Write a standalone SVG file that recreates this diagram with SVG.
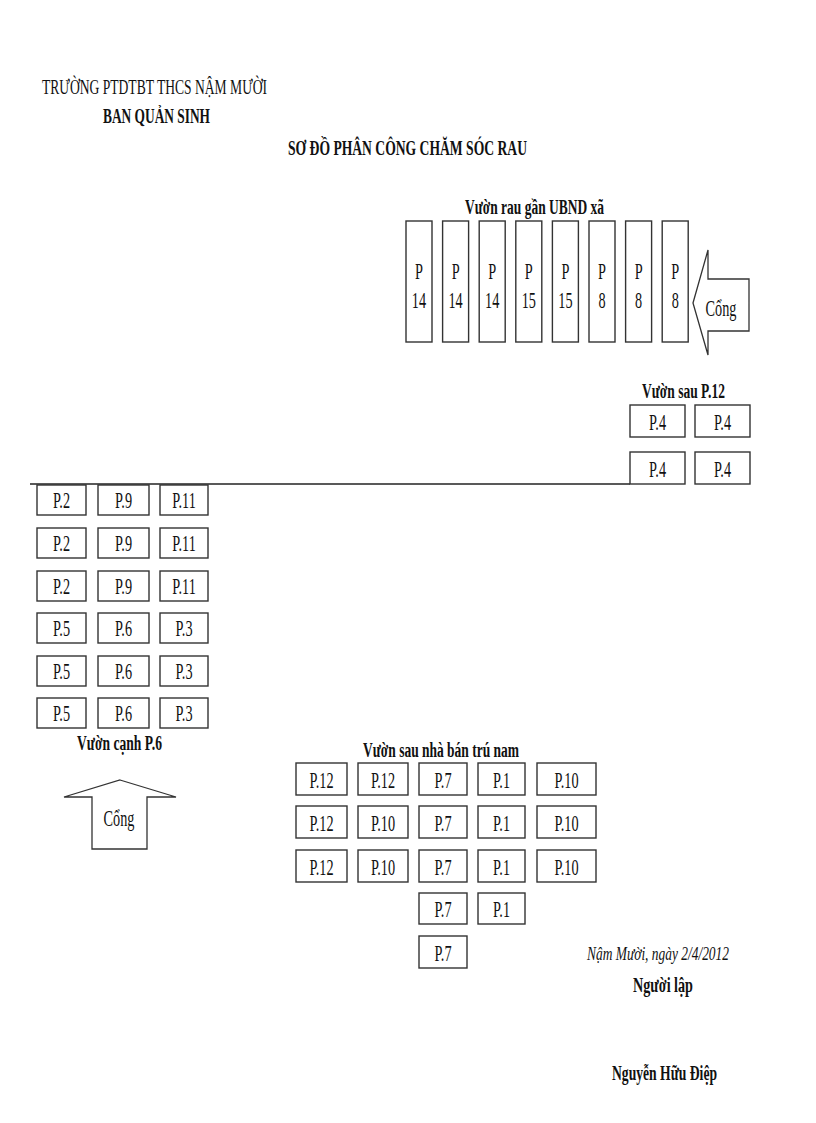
<svg xmlns="http://www.w3.org/2000/svg" width="816" height="1123" viewBox="0 0 816 1123">
<style>
text{font-family:"Liberation Serif","Times New Roman",serif;fill:#111}
.t{font-size:20px}
.b{font-size:20px;font-weight:bold}
.i{font-size:19px;font-style:italic}
.lbl{font-size:23px;text-anchor:middle}
.box{fill:#fff;stroke:#333;stroke-width:1.4}
.shape{fill:#fff;stroke:#333;stroke-width:1.3}
.line{stroke:#222;stroke-width:1.4;fill:none}
</style>
<rect width="816" height="1123" fill="#fff"/>
<g id="header">
<text class="t" x="42" y="94" textLength="225" lengthAdjust="spacingAndGlyphs">TRƯỜNG PTDTBT THCS NẬM MƯỜI</text>
<text class="b" x="103" y="123" textLength="107" lengthAdjust="spacingAndGlyphs">BAN QUẢN SINH</text>
<text class="b" x="288" y="155" textLength="239" lengthAdjust="spacingAndGlyphs">SƠ ĐỒ PHÂN CÔNG CHĂM SÓC RAU</text>
</g>
<g id="connectors">
<line class="line" x1="30" y1="484" x2="630" y2="484"/>
</g>
<g id="garden-ubnd">
<text class="b" x="465" y="214" textLength="139" lengthAdjust="spacingAndGlyphs">Vườn rau gần UBND xã</text>
<g id="ubnd-1"><rect class="box" x="406" y="221" width="26" height="121"/><text class="lbl" transform="translate(419,279) scale(0.62,1)">P</text><text class="lbl" transform="translate(419,308) scale(0.62,1)">14</text></g>
<g id="ubnd-2"><rect class="box" x="442.6" y="221" width="26" height="121"/><text class="lbl" transform="translate(455.6,279) scale(0.62,1)">P</text><text class="lbl" transform="translate(455.6,308) scale(0.62,1)">14</text></g>
<g id="ubnd-3"><rect class="box" x="479.2" y="221" width="26" height="121"/><text class="lbl" transform="translate(492.2,279) scale(0.62,1)">P</text><text class="lbl" transform="translate(492.2,308) scale(0.62,1)">14</text></g>
<g id="ubnd-4"><rect class="box" x="515.8" y="221" width="26" height="121"/><text class="lbl" transform="translate(528.8,279) scale(0.62,1)">P</text><text class="lbl" transform="translate(528.8,308) scale(0.62,1)">15</text></g>
<g id="ubnd-5"><rect class="box" x="552.4" y="221" width="26" height="121"/><text class="lbl" transform="translate(565.4,279) scale(0.62,1)">P</text><text class="lbl" transform="translate(565.4,308) scale(0.62,1)">15</text></g>
<g id="ubnd-6"><rect class="box" x="589" y="221" width="26" height="121"/><text class="lbl" transform="translate(602,279) scale(0.62,1)">P</text><text class="lbl" transform="translate(602,308) scale(0.62,1)">8</text></g>
<g id="ubnd-7"><rect class="box" x="625.6" y="221" width="26" height="121"/><text class="lbl" transform="translate(638.6,279) scale(0.62,1)">P</text><text class="lbl" transform="translate(638.6,308) scale(0.62,1)">8</text></g>
<g id="ubnd-8"><rect class="box" x="662.2" y="221" width="26" height="121"/><text class="lbl" transform="translate(675.2,279) scale(0.62,1)">P</text><text class="lbl" transform="translate(675.2,308) scale(0.62,1)">8</text></g>
</g>
<g id="gate-right">
<polygon class="shape" points="693,303 708,250 708,279 749,279 749,331 708,331 708,355"/>
<text class="lbl" transform="translate(721,316) scale(0.62,1)">Cổng</text>
</g>
<g id="garden-p12">
<text class="b" x="642" y="398" textLength="83" lengthAdjust="spacingAndGlyphs">Vườn sau P.12</text>
<g id="p12-1"><rect class="box" x="630" y="405" width="55" height="32"/><text class="lbl" transform="translate(657.5,430) scale(0.62,1)">P.4</text></g>
<g id="p12-2"><rect class="box" x="695" y="405" width="55" height="32"/><text class="lbl" transform="translate(722.5,430) scale(0.62,1)">P.4</text></g>
<g id="p12-3"><rect class="box" x="630" y="452" width="55" height="32"/><text class="lbl" transform="translate(657.5,477) scale(0.62,1)">P.4</text></g>
<g id="p12-4"><rect class="box" x="695" y="452" width="55" height="32"/><text class="lbl" transform="translate(722.5,477) scale(0.62,1)">P.4</text></g>
</g>
<g id="garden-p6">
<g id="p6-r1c1"><rect class="box" x="37" y="485" width="49" height="30"/><text class="lbl" transform="translate(61.5,508) scale(0.62,1)">P.2</text></g>
<g id="p6-r1c2"><rect class="box" x="98" y="485" width="51" height="30"/><text class="lbl" transform="translate(123.5,508) scale(0.62,1)">P.9</text></g>
<g id="p6-r1c3"><rect class="box" x="160" y="485" width="48" height="30"/><text class="lbl" transform="translate(184,508) scale(0.62,1)">P.11</text></g>
<g id="p6-r2c1"><rect class="box" x="37" y="528" width="49" height="30"/><text class="lbl" transform="translate(61.5,551) scale(0.62,1)">P.2</text></g>
<g id="p6-r2c2"><rect class="box" x="98" y="528" width="51" height="30"/><text class="lbl" transform="translate(123.5,551) scale(0.62,1)">P.9</text></g>
<g id="p6-r2c3"><rect class="box" x="160" y="528" width="48" height="30"/><text class="lbl" transform="translate(184,551) scale(0.62,1)">P.11</text></g>
<g id="p6-r3c1"><rect class="box" x="37" y="571" width="49" height="30"/><text class="lbl" transform="translate(61.5,594) scale(0.62,1)">P.2</text></g>
<g id="p6-r3c2"><rect class="box" x="98" y="571" width="51" height="30"/><text class="lbl" transform="translate(123.5,594) scale(0.62,1)">P.9</text></g>
<g id="p6-r3c3"><rect class="box" x="160" y="571" width="48" height="30"/><text class="lbl" transform="translate(184,594) scale(0.62,1)">P.11</text></g>
<g id="p6-r4c1"><rect class="box" x="37" y="613" width="49" height="30"/><text class="lbl" transform="translate(61.5,636) scale(0.62,1)">P.5</text></g>
<g id="p6-r4c2"><rect class="box" x="98" y="613" width="51" height="30"/><text class="lbl" transform="translate(123.5,636) scale(0.62,1)">P.6</text></g>
<g id="p6-r4c3"><rect class="box" x="160" y="613" width="48" height="30"/><text class="lbl" transform="translate(184,636) scale(0.62,1)">P.3</text></g>
<g id="p6-r5c1"><rect class="box" x="37" y="656" width="49" height="30"/><text class="lbl" transform="translate(61.5,679) scale(0.62,1)">P.5</text></g>
<g id="p6-r5c2"><rect class="box" x="98" y="656" width="51" height="30"/><text class="lbl" transform="translate(123.5,679) scale(0.62,1)">P.6</text></g>
<g id="p6-r5c3"><rect class="box" x="160" y="656" width="48" height="30"/><text class="lbl" transform="translate(184,679) scale(0.62,1)">P.3</text></g>
<g id="p6-r6c1"><rect class="box" x="37" y="698" width="49" height="30"/><text class="lbl" transform="translate(61.5,721) scale(0.62,1)">P.5</text></g>
<g id="p6-r6c2"><rect class="box" x="98" y="698" width="51" height="30"/><text class="lbl" transform="translate(123.5,721) scale(0.62,1)">P.6</text></g>
<g id="p6-r6c3"><rect class="box" x="160" y="698" width="48" height="30"/><text class="lbl" transform="translate(184,721) scale(0.62,1)">P.3</text></g>
<text class="b" x="77" y="750" textLength="85" lengthAdjust="spacingAndGlyphs">Vườn cạnh P.6</text>
</g>
<g id="gate-left">
<polygon class="shape" points="120,780 176,797 147,797 147,849 92,849 92,797 64,797"/>
<text class="lbl" transform="translate(119,826) scale(0.62,1)">Cổng</text>
</g>
<g id="garden-bantru">
<text class="b" x="363" y="757" textLength="156" lengthAdjust="spacingAndGlyphs">Vườn sau nhà bán trú nam</text>
<g id="bt-r1c1"><rect class="box" x="296" y="763" width="51" height="32"/><text class="lbl" transform="translate(321.5,788) scale(0.62,1)">P.12</text></g>
<g id="bt-r1c2"><rect class="box" x="358" y="763" width="50" height="32"/><text class="lbl" transform="translate(383,788) scale(0.62,1)">P.12</text></g>
<g id="bt-r1c3"><rect class="box" x="419" y="763" width="48" height="32"/><text class="lbl" transform="translate(443,788) scale(0.62,1)">P.7</text></g>
<g id="bt-r1c4"><rect class="box" x="478" y="763" width="47" height="32"/><text class="lbl" transform="translate(501.5,788) scale(0.62,1)">P.1</text></g>
<g id="bt-r1c5"><rect class="box" x="537" y="763" width="59" height="32"/><text class="lbl" transform="translate(566.5,788) scale(0.62,1)">P.10</text></g>
<g id="bt-r2c1"><rect class="box" x="296" y="806" width="51" height="32"/><text class="lbl" transform="translate(321.5,831) scale(0.62,1)">P.12</text></g>
<g id="bt-r2c2"><rect class="box" x="358" y="806" width="50" height="32"/><text class="lbl" transform="translate(383,831) scale(0.62,1)">P.10</text></g>
<g id="bt-r2c3"><rect class="box" x="419" y="806" width="48" height="32"/><text class="lbl" transform="translate(443,831) scale(0.62,1)">P.7</text></g>
<g id="bt-r2c4"><rect class="box" x="478" y="806" width="47" height="32"/><text class="lbl" transform="translate(501.5,831) scale(0.62,1)">P.1</text></g>
<g id="bt-r2c5"><rect class="box" x="537" y="806" width="59" height="32"/><text class="lbl" transform="translate(566.5,831) scale(0.62,1)">P.10</text></g>
<g id="bt-r3c1"><rect class="box" x="296" y="850" width="51" height="32"/><text class="lbl" transform="translate(321.5,875) scale(0.62,1)">P.12</text></g>
<g id="bt-r3c2"><rect class="box" x="358" y="850" width="50" height="32"/><text class="lbl" transform="translate(383,875) scale(0.62,1)">P.10</text></g>
<g id="bt-r3c3"><rect class="box" x="419" y="850" width="48" height="32"/><text class="lbl" transform="translate(443,875) scale(0.62,1)">P.7</text></g>
<g id="bt-r3c4"><rect class="box" x="478" y="850" width="47" height="32"/><text class="lbl" transform="translate(501.5,875) scale(0.62,1)">P.1</text></g>
<g id="bt-r3c5"><rect class="box" x="537" y="850" width="59" height="32"/><text class="lbl" transform="translate(566.5,875) scale(0.62,1)">P.10</text></g>
<g id="bt-r4c3"><rect class="box" x="419" y="893" width="48" height="31"/><text class="lbl" transform="translate(443,917) scale(0.62,1)">P.7</text></g>
<g id="bt-r4c4"><rect class="box" x="478" y="893" width="47" height="31"/><text class="lbl" transform="translate(501.5,917) scale(0.62,1)">P.1</text></g>
<g id="bt-r5c3"><rect class="box" x="419" y="936" width="48" height="32"/><text class="lbl" transform="translate(443,961) scale(0.62,1)">P.7</text></g>
</g>
<g id="signature">
<text class="i" x="587" y="960" textLength="142" lengthAdjust="spacingAndGlyphs">Nậm Mười, ngày 2/4/2012</text>
<text class="b" x="633" y="992" textLength="60" lengthAdjust="spacingAndGlyphs">Người lập</text>
<text class="b" x="612" y="1080" textLength="105" lengthAdjust="spacingAndGlyphs">Nguyễn Hữu Điệp</text>
</g>
</svg>
